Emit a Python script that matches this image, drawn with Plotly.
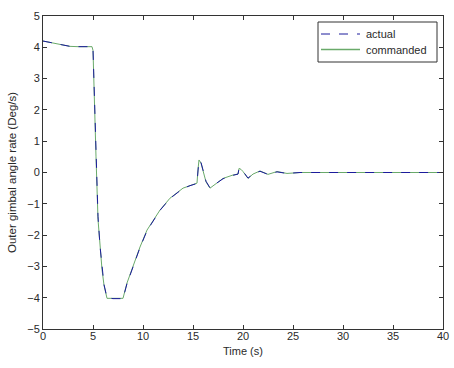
import plotly.graph_objects as go

time_s = [0, 1, 2, 2.7, 3.5, 4.9, 5.0, 5.1, 5.3, 5.5, 5.7, 5.9, 6.1, 6.4, 7.0, 8.0,
          8.4, 9.0, 9.7, 10.4, 11.0, 11.7, 12.7, 13.3, 14.0, 14.7, 15.4, 15.5, 15.6,
          15.8, 16.0, 16.3, 16.7, 17.2, 18.0, 19.0, 19.5, 19.6, 19.8, 20.0, 20.5,
          21.0, 21.7, 22.5, 23.4, 24.4, 25.7, 30, 35, 40]

commanded = [4.2, 4.13, 4.07, 4.03, 4.02, 4.02, 3.9, 2.5, 0.5, -1.5, -2.4, -3.1, -3.6,
             -4.02, -4.02, -4.02, -3.53, -3.0, -2.38, -1.84, -1.55, -1.2, -0.82, -0.68,
             -0.5, -0.42, -0.34, 0.1, 0.4, 0.3, 0.08, -0.3, -0.5, -0.38, -0.19, -0.08,
             -0.05, 0.13, 0.1, 0.03, -0.19, -0.05, 0.05, -0.06, 0.03, -0.03, 0.0, 0.0,
             0.0, 0.0]

actual = [4.2, 4.13, 4.07, 4.03, 4.02, 4.02, 3.95, 2.7, 0.6, -1.4, -2.35, -3.05, -3.58,
          -4.0, -4.03, -4.03, -3.55, -3.02, -2.4, -1.86, -1.56, -1.21, -0.83, -0.69,
          -0.51, -0.42, -0.35, 0.05, 0.38, 0.32, 0.1, -0.28, -0.49, -0.38, -0.2, -0.09,
          -0.05, 0.12, 0.1, 0.04, -0.18, -0.05, 0.04, -0.06, 0.02, -0.03, 0.0, 0.0,
          0.0, 0.0]

series_names = ["actual", "commanded"]
x_ticks = [0, 5, 10, 15, 20, 25, 30, 35, 40]
y_ticks = [-5, -4, -3, -2, -1, 0, 1, 2, 3, 4, 5]

BLUE = "#1c1c9c"
GREEN = "#6aaa6a"
font = dict(family="Liberation Sans, Arial, sans-serif", size=11, color="#2a2a2a")

fig = go.Figure()
fig.add_trace(go.Scatter(x=time_s, y=commanded, mode="lines", name=series_names[1],
                         line=dict(color=GREEN, width=1), showlegend=False))
fig.add_trace(go.Scatter(x=time_s, y=actual, mode="lines", name=series_names[0],
                         line=dict(color=BLUE, width=1, dash="dash"), showlegend=False))

axis_common = dict(showgrid=False, zeroline=False, showline=True, linecolor="#333333",
                   linewidth=1, mirror="allticks", ticks="inside", ticklen=4,
                   tickcolor="#333333", tickfont=font, automargin=False)

fig.update_xaxes(range=[0, 40], tickvals=x_ticks, ticklabelstandoff=-3,
                 title=dict(text="Time (s)", font=font, standoff=6), **axis_common)
fig.update_yaxes(range=[-5, 5], tickvals=y_ticks,
                 title=dict(text="Outer gimbal angle rate (Deg/s)",
                            font=dict(family=font["family"], size=11.5, color=font["color"]),
                            standoff=8),
                 **axis_common)

# Manual legend box (MATLAB-style), in pixel-derived paper coords
L, R, T, B = 43, 443, 16, 329
def px(xp):
    return (xp - L) / (R - L)
def py(yp):
    return (B - yp) / (B - T)

shapes = [
    dict(type="rect", xref="paper", yref="paper", x0=px(318), x1=px(437), y0=py(62), y1=py(22),
         line=dict(color="#333333", width=1), fillcolor="white", layer="above"),
    dict(type="line", xref="paper", yref="paper", x0=px(321), x1=px(360), y0=py(34), y1=py(34),
         line=dict(color=BLUE, width=1, dash="dash"), layer="above"),
    dict(type="line", xref="paper", yref="paper", x0=px(321), x1=px(360), y0=py(49.5), y1=py(49.5),
         line=dict(color=GREEN, width=1.5), layer="above"),
]
annotations = [
    dict(xref="paper", yref="paper", x=px(364), y=py(34), text=series_names[0], showarrow=False,
         xanchor="left", yanchor="middle", font=font),
    dict(xref="paper", yref="paper", x=px(364), y=py(49.5), text=series_names[1], showarrow=False,
         xanchor="left", yanchor="middle", font=font),
]

fig.update_layout(
    width=454, height=368,
    margin=dict(l=L, r=454 - R, t=T, b=368 - B, autoexpand=False),
    paper_bgcolor="white", plot_bgcolor="white",
    font=font,
    showlegend=False,
    shapes=shapes,
    annotations=annotations,
)

fig.write_html("out.html", config={"displayModeBar": False, "staticPlot": True},
               post_script="document.body.style.margin='0';document.body.style.padding='0';document.body.style.overflow='hidden';")
